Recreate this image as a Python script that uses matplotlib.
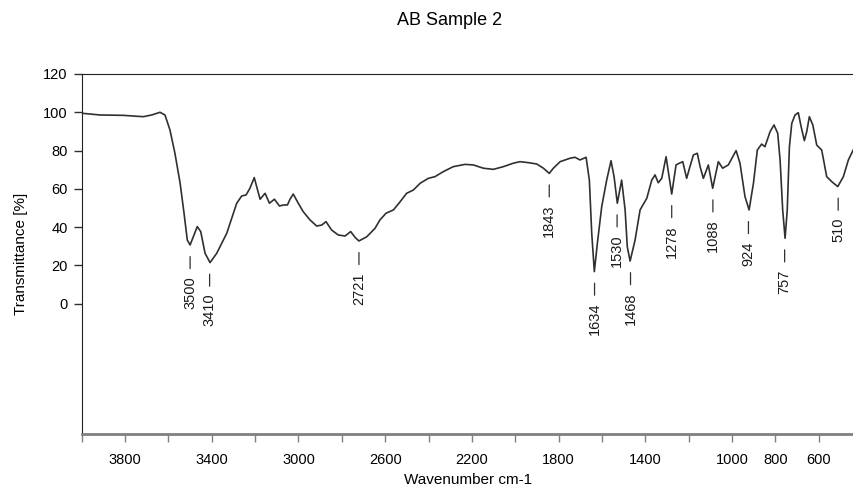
import numpy as np
import matplotlib.pyplot as plt

plt.rcParams["font.family"] = ["Liberation Sans", "DejaVu Sans"]

# spectrum (wavenumber cm-1, transmittance %)
wavenumber = [
    4000, 3916, 3808, 3716, 3677, 3639, 3616, 3593, 3570, 3546, 3528, 3513,
    3500, 3467, 3451, 3431, 3408, 3377, 3331, 3285, 3262, 3242, 3224, 3204,
    3193, 3177, 3154, 3134, 3111, 3088, 3067, 3051, 3039, 3024, 3001, 2978,
    2947, 2916, 2893, 2873, 2847, 2816, 2785, 2759, 2739, 2721, 2685, 2647,
    2624, 2596, 2562, 2531, 2501, 2470, 2439, 2401, 2370, 2332, 2286, 2232,
    2193, 2147, 2101, 2055, 2009, 1978, 1939, 1901, 1870, 1843, 1824, 1793,
    1747, 1724, 1701, 1673, 1658, 1647, 1635, 1621, 1601, 1578, 1558, 1544,
    1529, 1509, 1493, 1483, 1470, 1447, 1424, 1393, 1370, 1355, 1340, 1324,
    1304, 1278, 1258, 1243, 1227, 1209, 1196, 1178, 1160, 1147, 1132, 1109,
    1089, 1063, 1043, 1017, 981, 963, 940, 921, 901, 883, 863, 848,
    824, 806, 789, 778, 766, 755, 745, 735, 724, 709, 694, 681,
    666, 655, 643, 627, 609, 586, 563, 540, 512, 486, 463, 437,
]
transmittance = [
    99.5, 98.6, 98.4, 97.7, 98.6, 100.0, 98.6, 90.8, 78.6, 62.9, 47.3, 33.3,
    30.7, 40.3, 37.7, 26.4, 21.5, 26.4, 36.8, 52.5, 56.3, 56.8, 60.3, 65.9,
    61.2, 54.6, 57.7, 52.5, 54.6, 51.1, 51.6, 51.6, 54.6, 57.3, 52.5, 48.1,
    43.8, 40.6, 41.1, 42.9, 38.5, 35.9, 35.4, 37.7, 34.7, 32.8, 35.0, 39.4,
    43.8, 47.3, 49.0, 53.3, 57.7, 59.4, 62.9, 65.5, 66.4, 69.0, 71.6, 72.8,
    72.5, 70.8, 70.2, 71.6, 73.4, 74.2, 73.7, 73.0, 70.8, 68.1, 70.8, 74.2,
    76.0, 76.5, 75.1, 76.5, 64.6, 36.8, 16.8, 31.6, 50.7, 64.6, 74.7, 66.4,
    52.5, 64.6, 49.0, 29.8, 22.3, 33.3, 49.0, 55.1, 64.6, 67.3, 63.2, 65.5,
    76.8, 57.3, 72.5, 73.4, 74.2, 65.5, 70.8, 77.7, 78.6, 71.6, 65.5, 72.5,
    60.3, 74.2, 70.8, 72.5, 80.0, 73.4, 56.0, 49.0, 62.9, 80.3, 83.4, 82.0,
    89.9, 93.4, 89.0, 75.1, 49.0, 34.2, 49.0, 82.0, 94.3, 98.6, 99.8, 92.5,
    85.2, 89.9, 97.7, 93.4, 82.9, 80.3, 66.4, 63.8, 61.2, 66.4, 75.1, 81.2,
]

peak_labels = [3500, 3410, 2721, 1843, 1634, 1530, 1468, 1278, 1088, 924, 757, 510]
x_ticks = list(range(4000, 400, -200))
x_labels = [3800, 3400, 3000, 2600, 2200, 1800, 1400, 1000, 800, 600]
y_ticks = [0, 20, 40, 60, 80, 100, 120]

wn = np.array(wavenumber)
tr = np.array(transmittance)

fig = plt.figure(figsize=(8.54, 4.9), dpi=100)
ax = fig.add_axes([0.0957, 0.1143, 0.9043, 0.7347])

ax.plot(wn, tr, color="#303030", linewidth=1.2)

# peak markers: short dash + rotated number under each dip
off_top = 6.0
dash_len = 11.0
for p in peak_labels:
    near = np.abs(wn - p) <= 12
    y_min = tr[near].min()
    ax.annotate("", xy=(p, y_min), xytext=(0, -(off_top + dash_len)),
                textcoords="offset points",
                arrowprops=dict(arrowstyle="-", color="#303030", lw=0.9,
                                shrinkA=0, shrinkB=off_top * 100 / 72))
    ax.annotate(str(p), xy=(p, y_min), xytext=(0, -(off_top + dash_len + 5.5)),
                textcoords="offset points", rotation=90, ha="center", va="top",
                fontsize=10.5, color="#1a1a1a")

ax.set_xlim(4000, 437)
ax.set_ylim(-68, 120)
ax.set_xticks(x_ticks)
ax.set_xticklabels([str(t) if t in x_labels else "" for t in x_ticks])
ax.set_yticks(y_ticks)
ax.tick_params(axis="x", direction="out", length=6, width=1, color="#808080",
               labelsize=10.5, pad=8)
ax.tick_params(axis="y", direction="out", length=6, width=1, color="#303030",
               labelsize=10.5, pad=4)

ax.spines["right"].set_visible(False)
ax.spines["top"].set_color("#202020")
ax.spines["left"].set_color("#202020")
ax.spines["bottom"].set_color("#808080")
ax.spines["bottom"].set_linewidth(2)

ax.set_xlabel("Wavenumber cm-1", fontsize=11, labelpad=4)
ax.set_ylabel("Transmittance [%]", fontsize=11, labelpad=11)
fig.suptitle("AB Sample 2", fontsize=13, x=0.527, y=0.975)

fig.savefig("out.png", dpi=100)
